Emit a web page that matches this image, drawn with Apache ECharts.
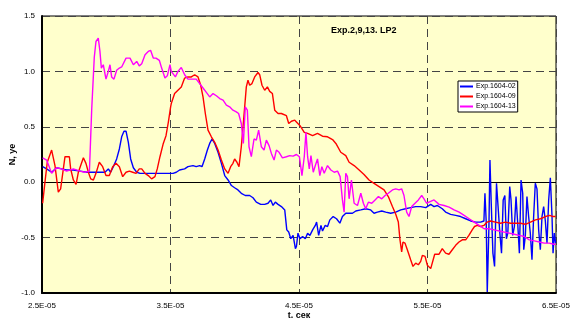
<!DOCTYPE html>
<html>
<head>
<meta charset="utf-8">
<script src="https://cdn.jsdelivr.net/npm/echarts@6/dist/echarts.min.js"></script>
<style>
  html, body { margin: 0; padding: 0; background: #fff; }
  #chart { width: 570px; height: 325px; }
</style>
</head>
<body>
<div id="chart"></div>
<script>
// Time in microseconds; axis labels show seconds in E-notation.
const t02 = [25.05,25.36,25.75,26.14,26.53,26.92,27.44,27.96,28.48,29.0,29.51,29.9,30.16,30.34,30.55,30.81,31.02,31.2,31.38,31.54,31.72,31.9,32.11,32.37,32.63,33.14,33.66,34.18,34.7,35.2,35.45,35.71,36.1,36.36,36.75,37.0,37.27,37.45,37.66,37.87,38.05,38.23,38.44,38.7,38.96,39.22,39.48,39.74,39.99,40.25,40.51,40.82,41.16,41.42,41.68,42.02,42.33,42.59,42.8,42.98,43.16,43.37,43.63,43.89,44.05,44.2,44.36,44.54,44.72,44.8,44.92,45.08,45.28,45.49,45.67,45.85,46.06,46.27,46.37,46.53,46.71,46.83,47.04,47.22,47.4,47.66,47.92,48.18,48.38,48.64,48.9,49.16,49.42,49.81,50.19,50.58,50.84,51.1,51.44,51.75,52.14,52.53,52.92,53.3,53.69,54.08,54.47,54.86,54.99,55.25,55.51,55.77,56.15,56.41,56.8,57.19,57.58,57.97,58.36,58.74,59.13,59.39,59.47,59.57,59.65,59.78,59.86,59.96,60.09,60.22,60.37,60.48,60.63,60.76,60.89,61.02,61.14,61.25,61.4,61.5,61.63,61.76,61.89,62.02,62.15,62.28,62.41,62.49,62.61,62.74,62.87,63.0,63.13,63.26,63.39,63.52,63.65,63.78,63.91,64.04,64.17,64.3,64.43,64.56,64.69,64.77,64.87,64.97];
const n02 = [0.14,0.12,0.09,0.13,0.12,0.11,0.11,0.10,0.09,0.09,0.09,0.09,0.12,0.09,0.14,0.21,0.30,0.41,0.46,0.46,0.36,0.21,0.13,0.09,0.08,0.08,0.08,0.08,0.08,0.08,0.09,0.11,0.12,0.14,0.15,0.14,0.15,0.14,0.21,0.29,0.35,0.39,0.35,0.27,0.17,0.06,0.02,-0.03,-0.05,-0.07,-0.10,-0.12,-0.12,-0.14,-0.18,-0.20,-0.20,-0.19,-0.16,-0.21,-0.18,-0.20,-0.22,-0.25,-0.43,-0.45,-0.51,-0.48,-0.60,-0.58,-0.46,-0.51,-0.49,-0.51,-0.46,-0.48,-0.43,-0.39,-0.36,-0.48,-0.39,-0.44,-0.39,-0.40,-0.34,-0.31,-0.33,-0.37,-0.31,-0.28,-0.28,-0.28,-0.26,-0.25,-0.24,-0.25,-0.28,-0.27,-0.26,-0.27,-0.28,-0.27,-0.25,-0.24,-0.23,-0.22,-0.22,-0.23,-0.24,-0.20,-0.22,-0.21,-0.24,-0.27,-0.29,-0.30,-0.31,-0.33,-0.35,-0.36,-0.36,-0.35,-0.10,-0.36,-0.99,-0.40,0.20,-0.19,-0.64,-0.76,-0.01,-0.02,-0.46,-0.64,-0.16,-0.12,-0.51,-0.46,-0.04,-0.16,-0.48,-0.40,-0.13,-0.37,-0.64,0.02,-0.10,-0.61,-0.49,-0.13,-0.31,-0.46,-0.70,-0.31,-0.01,-0.06,-0.43,-0.61,-0.31,-0.22,-0.35,-0.55,-0.16,0.04,-0.31,-0.64,-0.46,-0.55];

const t09 = [25.05,25.23,25.41,25.75,26.01,26.27,26.45,26.66,26.79,27.13,27.23,27.44,27.65,27.83,28.01,28.22,28.42,28.61,28.79,29.0,29.2,29.46,29.72,29.98,30.24,30.5,30.76,31.02,31.28,31.54,31.8,32.06,32.32,32.57,32.76,33.02,33.27,33.53,33.79,33.97,34.18,34.44,34.65,34.83,35.01,35.06,35.32,35.58,35.84,36.1,36.36,36.62,36.88,37.14,37.35,37.53,37.71,37.92,38.18,38.44,38.7,38.96,39.22,39.48,39.68,39.86,39.99,40.17,40.33,40.51,40.71,40.9,41.03,41.16,41.34,41.55,41.81,41.94,42.12,42.33,42.54,42.72,42.93,43.11,43.37,43.63,43.76,44.02,44.2,44.41,44.67,45.08,45.41,45.67,46.06,46.44,46.83,47.22,47.61,47.87,48.25,48.64,48.9,49.29,49.68,50.06,50.45,50.84,51.23,51.62,51.95,52.27,52.53,52.73,52.86,52.99,53.09,53.25,53.43,53.69,53.87,54.08,54.29,54.47,54.6,54.73,54.81,54.99,55.25,55.38,55.56,55.9,56.15,56.41,56.67,56.93,57.19,57.45,57.71,57.97,58.22,58.48,58.66,58.87,59.13,59.39,59.64,59.9,60.29,60.68,61.07,61.46,61.85,62.23,62.62,63.01,63.4,63.79,64.18,64.51,64.77,64.97];
const n09 = [-0.19,0.0,0.18,0.29,0.15,-0.09,-0.06,0.12,0.23,0.23,0.12,0.02,-0.02,0.09,0.15,0.22,0.17,0.09,0.03,0.02,0.08,0.18,0.14,0.06,0.06,0.14,0.17,0.14,0.05,0.09,0.10,0.09,0.08,0.12,0.12,0.08,0.06,0.03,0.05,0.12,0.23,0.35,0.42,0.54,0.68,0.71,0.80,0.83,0.86,0.94,0.95,0.95,0.97,0.95,0.875,0.77,0.62,0.47,0.41,0.36,0.29,0.20,0.12,0.08,0.14,0.17,0.21,0.18,0.14,0.32,0.59,0.86,0.92,0.875,0.89,0.95,0.99,0.97,0.875,0.83,0.86,0.82,0.80,0.65,0.62,0.62,0.63,0.60,0.53,0.55,0.56,0.51,0.45,0.44,0.42,0.44,0.415,0.41,0.385,0.35,0.27,0.24,0.18,0.15,0.11,0.07,0.02,-0.01,-0.04,-0.07,-0.13,-0.22,-0.29,-0.36,-0.52,-0.63,-0.54,-0.55,-0.61,-0.70,-0.76,-0.73,-0.745,-0.715,-0.66,-0.66,-0.67,-0.75,-0.78,-0.78,-0.65,-0.65,-0.60,-0.64,-0.65,-0.61,-0.57,-0.54,-0.52,-0.52,-0.48,-0.43,-0.40,-0.39,-0.40,-0.39,-0.36,-0.35,-0.36,-0.37,-0.36,-0.37,-0.37,-0.37,-0.38,-0.36,-0.34,-0.33,-0.31,-0.30,-0.31,-0.31];

const t13 = [25.05,25.36,25.75,26.14,26.53,26.92,27.44,27.96,28.35,28.69,28.87,28.99,29.07,29.2,29.38,29.51,29.62,29.77,29.98,30.16,30.29,30.42,30.6,30.81,31.02,31.2,31.54,31.85,32.11,32.37,32.57,32.76,33.02,33.27,33.45,33.66,33.87,34.13,34.31,34.57,34.75,34.96,35.06,35.38,35.58,35.84,36.1,36.36,36.75,37.0,37.27,37.53,37.79,38.05,38.31,38.57,38.83,39.09,39.35,39.6,39.86,40.12,40.3,40.51,40.67,40.82,40.98,41.11,41.29,41.5,41.68,41.86,42.07,42.28,42.46,42.67,42.85,43.06,43.24,43.45,43.71,44.02,44.28,44.54,44.8,45.03,45.23,45.41,45.54,45.67,45.8,45.93,46.11,46.27,46.44,46.62,46.78,46.96,47.22,47.48,47.74,48.0,48.2,48.38,48.51,48.64,48.77,48.9,49.08,49.29,49.55,49.81,50.01,50.19,50.4,50.66,50.92,51.18,51.44,51.7,51.95,52.27,52.53,52.79,52.99,53.17,53.38,53.56,53.77,54.03,54.29,54.55,54.73,54.93,55.12,55.51,55.9,56.29,56.68,57.07,57.46,57.85,58.24,58.63,59.02,59.41,59.8,60.19,60.58,60.97,61.36,61.75,62.14,62.53,62.92,63.31,63.7,64.09,64.48,64.82,64.97];
const n13 = [0.22,0.20,0.08,0.13,0.12,0.10,0.12,0.10,0.09,0.10,0.66,0.66,1.13,1.27,1.30,1.18,1.03,1.06,0.93,1.0,1.06,0.95,0.93,1.01,1.03,1.04,1.12,1.12,1.06,1.09,1.05,1.07,1.15,1.18,1.19,1.12,1.12,1.10,1.03,0.94,0.96,1.06,1.0,0.95,1.0,1.035,0.97,0.93,0.93,0.93,0.89,0.85,0.81,0.77,0.80,0.78,0.755,0.74,0.695,0.68,0.65,0.635,0.62,0.53,0.35,0.68,0.65,0.32,0.23,0.39,0.38,0.47,0.32,0.29,0.38,0.33,0.26,0.20,0.29,0.27,0.22,0.23,0.24,0.235,0.25,0.23,0.06,0.23,0.45,0.23,0.12,0.24,0.09,0.15,0.21,0.06,0.14,0.08,0.15,0.11,0.09,0.10,0.05,-0.16,-0.27,0.08,0.05,-0.15,0.02,-0.19,-0.21,-0.10,-0.19,-0.24,-0.18,-0.19,-0.16,-0.13,-0.15,-0.12,-0.10,-0.07,-0.06,-0.07,-0.06,-0.12,-0.27,-0.31,-0.22,-0.19,-0.16,-0.12,-0.15,-0.19,-0.18,-0.16,-0.20,-0.21,-0.225,-0.25,-0.27,-0.30,-0.33,-0.36,-0.39,-0.42,-0.42,-0.43,-0.44,-0.45,-0.46,-0.47,-0.48,-0.49,-0.52,-0.53,-0.54,-0.55,-0.55,-0.56,-0.56];

const seriesNames = ['Exp.1604-02', 'Exp.1604-09', 'Exp.1604-13'];
const seriesColors = ['#0000FF', '#FF0000', '#FF00FF'];
const xTicks = [25, 35, 45, 55, 65];
const chartTitle = 'Exp.2,9,13. LP2';

const pairs = (t, n) => t.map((v, i) => [v, n[i]]);
const seriesData = [pairs(t02, n02), pairs(t09, n09), pairs(t13, n13)];

// 25 (µs) -> "2.5E-05"
function sciLabel(us) {
  const s = us * 1e-6;
  let e = Math.floor(Math.log10(s) + 1e-9);
  let m = s / Math.pow(10, e);
  if (m >= 9.95) { m /= 10; e += 1; }
  const sign = e < 0 ? '-' : '+';
  return m.toFixed(1) + 'E' + sign + String(Math.abs(e)).padStart(2, '0');
}

const font = '"Liberation Sans", Arial, sans-serif';
const chart = echarts.init(document.getElementById('chart'), null, { renderer: 'canvas' });

chart.setOption({
  animation: false,
  backgroundColor: '#ffffff',
  textStyle: { fontFamily: font },
  grid: {
    left: 42, right: 14, top: 16, bottom: 32,
    containLabel: false,
    outerBoundsMode: 'none',
    show: true,
    backgroundColor: '#FFFFCC',
    borderColor: '#000000',
    borderWidth: 1
  },
  title: {
    text: chartTitle,
    left: 331, top: 26,
    padding: 0,
    textStyle: { fontSize: 9, fontWeight: 'bold', color: '#000', fontFamily: font }
  },
  legend: {
    data: seriesNames,
    orient: 'vertical',
    left: 458, top: 81,
    padding: [2, 2, 2, 2],
    itemGap: 3,
    itemWidth: 13,
    itemHeight: 2,
    icon: 'rect',
    backgroundColor: '#ffffff',
    borderColor: '#000000',
    borderWidth: 1,
    borderRadius: 0,
    textStyle: { fontSize: 7, color: '#000', fontFamily: font, padding: [0, 0, 0, -2] }
  },
  xAxis: {
    type: 'value',
    min: xTicks[0], max: xTicks[xTicks.length - 1], interval: 10,
    name: 't. сек',
    nameLocation: 'middle',
    nameGap: 18,
    nameMoveOverlap: false,
    nameTextStyle: { fontSize: 9, fontWeight: 'bold', color: '#000', fontFamily: font },
    axisLine: { onZero: false, lineStyle: { color: '#000', width: 2 } },
    axisTick: { show: false },
    axisLabel: { fontSize: 8, color: '#000', margin: 9, formatter: sciLabel, fontFamily: font },
    splitLine: { show: true, lineStyle: { color: '#444', width: 1, type: [8, 5] } }
  },
  yAxis: {
    type: 'value',
    min: -1, max: 1.5, interval: 0.5,
    name: 'N, ye',
    nameLocation: 'middle',
    nameGap: 25,
    nameMoveOverlap: false,
    nameRotate: 90,
    nameTextStyle: { fontSize: 9, fontWeight: 'bold', color: '#000', fontFamily: font },
    axisLine: { show: true, lineStyle: { color: '#000', width: 2 } },
    axisTick: { show: false },
    axisLabel: { fontSize: 8, color: '#000', margin: 7, formatter: v => v.toFixed(1), fontFamily: font },
    splitLine: { show: true, lineStyle: { color: '#444', width: 1, type: [8, 5] } }
  },
  series: seriesNames.map((name, i) => ({
    name: name,
    type: 'line',
    data: seriesData[i],
    showSymbol: false,
    symbol: 'none',
    clip: true,
    z: 3 + i,
    lineStyle: { color: seriesColors[i], width: 1.4 },
    itemStyle: { color: seriesColors[i] },
    markLine: i === 0 ? {
      silent: true,
      symbol: 'none',
      label: { show: false },
      lineStyle: { color: '#000', width: 1, type: 'solid' },
      data: [{ yAxis: 0 }],
      z: 1
    } : undefined
  }))
});
</script>
</body>
</html>
